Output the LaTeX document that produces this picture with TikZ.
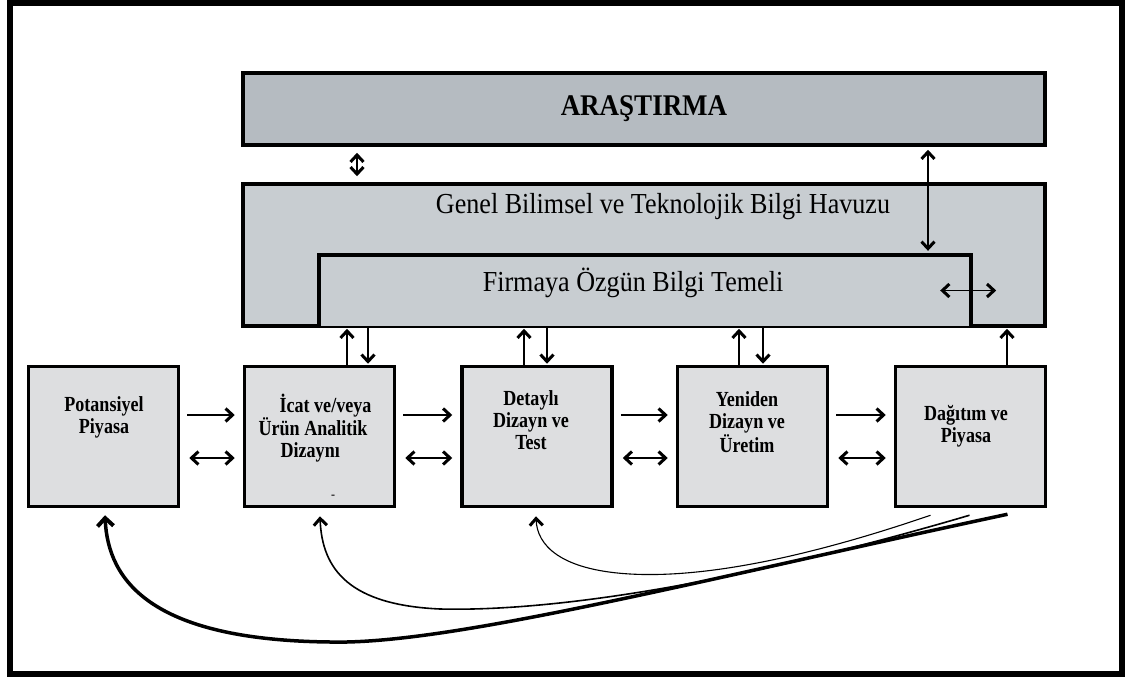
\documentclass[tikz,border=0pt]{standalone}
\usepackage{fontspec}
\setmainfont{Liberation Serif}
\newfontfamily\condfont[FakeStretch=0.9]{Liberation Serif}
\newfontfamily\narrowfont[FakeStretch=0.84]{Liberation Serif}
\usetikzlibrary{arrows.meta,positioning}

\definecolor{arastgray}{RGB}{181,187,193}
\definecolor{poolgray}{RGB}{200,205,209}
\definecolor{stagegray}{RGB}{221,222,224}

\tikzset{bb/.tip={Straight Barb[length=7pt,width=13pt,line width=3pt 0]},
	bigbb/.tip={Straight Barb[length=8pt,width=16pt,line width=4pt 0]}}

\begin{document}
\begin{tikzpicture}[x=1pt,y=-1pt,
		bigbox/.style={draw,line width=3.5pt,minimum width=802pt},
		stage/.style={draw,line width=3.5pt,fill=stagegray,minimum width=150pt,minimum height=140pt},
		stagetext/.style={align=center,font=\narrowfont\fontsize{21.5}{22}\selectfont\bfseries},
		link/.style={line width=1.1pt}]
		\useasboundingbox (0,0) rectangle (1125,677);
		\draw[line width=6pt] (10,3) rectangle (1122,674);

		% upper boxes
		\node[bigbox,fill=arastgray,minimum height=72pt,font=\condfont\fontsize{30}{32}\selectfont\bfseries] (arast) at (644,109) {ARAŞTIRMA};
		\node[bigbox,fill=poolgray,minimum height=142pt] (genel) at (644,255) {};
		\node[fill=poolgray,minimum width=652pt,minimum height=71pt] (firma) at (645,290.5) {};
		\draw[line width=3.5pt] (firma.south west) -- (firma.north west) -- (firma.north east) -- (firma.south east);
		\node[font=\condfont\fontsize{29}{32}\selectfont] (genelT) at (663,207) {Genel Bilimsel ve Teknolojik Bilgi Havuzu};
		\node[font=\condfont\fontsize{29}{32}\selectfont] (firmaT) at (633,283) {Firmaya Özgün Bilgi Temeli};

		% stages
		\node[stage] (pot) at (103.5,436.5) {};
		\node[stage] (icat) at (319.5,436.5) {};
		\node[stage] (det) at (537,436.5) {};
		\node[stage] (yen) at (752.5,436.5) {};
		\node[stage] (dag) at (970.5,436.5) {};
		\node[stagetext] (potT) at (104,417) {Potansiyel\\Piyasa};
		\node[stagetext,align=left] (icatT) at (315,428) {\hspace*{21pt}İcat ve/veya\\Ürün Analitik\\\hspace*{22pt}Dizaynı};
		\node[stagetext] (detT) at (531,420) {Detaylı\\Dizayn ve\\Test};
		\node[stagetext] (yenT) at (747,422) {Yeniden\\Dizayn ve\\Üretim};
		\node[stagetext] (dagT) at (966,426) {Dağıtım ve\\Piyasa};
		\node[font=\fontsize{12}{12}\selectfont\bfseries] (mark) at (333,497) {-};

		\coordinate (ra) at (0,415);
		\coordinate (rb) at (0,458);
		\foreach \a/\b in {pot/icat,icat/det,det/yen,yen/dag}{
			\draw[link,-bb,shorten <=7pt,shorten >=8pt] (\a.east |- ra) -- (\b.west |- ra);
			\draw[link,bb-bb,shorten <=9pt,shorten >=8pt] (\a.east |- rb) -- (\b.west |- rb);
		}

		% up and down
		\foreach \s/\u/\d in {icat/347/368,det/524/547,yen/739/763}{
			\draw[link,-bb,shorten >=1pt] (\s.north -| \u,0) -- (genel.south -| \u,0);
			\draw[link,-bb,shorten >=1pt] (genel.south -| \d,0) -- (\s.north -| \d,0);
		}
		\draw[link,-bb,shorten >=1pt] (dag.north -| 1007,0) -- (genel.south -| 1007,0);

		\draw[line width=1.8pt,bb-bb,shorten <=6pt,shorten >=6pt] (arast.south -| 357,0) -- (genel.north -| 357,0);
		\draw[link,bb-bb,shorten <=3pt,shorten >=4pt] (arast.south -| 928,0) -- (firma.north -| 928,0);
		\draw[link,bb-bb] ([xshift=-31pt]firma.east) -- ([xshift=25pt]firma.east);

		% feedback from market
		\draw[link,-bb] ([xshift=-40pt,yshift=-7pt]dag.south) .. controls (800,560) and (700,578) .. (630,574)
			.. controls (560,570) and (537,545) .. ([yshift=-8pt]det.south -| 536,0);
		\draw[line width=1.6pt,-bb] ([xshift=-1pt,yshift=-7pt]dag.south) .. controls (750,580) and (560,612) .. (440,609)
			.. controls (350,605) and (322,570) .. ([yshift=-8pt]icat.south -| 320,0);
		\draw[line width=3.5pt,-bigbb] ([xshift=37pt,yshift=-6pt]dag.south) .. controls (700,580) and (450,645) .. (330,642)
			.. controls (150,640) and (108,580) .. ([yshift=-7pt]pot.south -| 105,0);
	\end{tikzpicture}
\end{document}
